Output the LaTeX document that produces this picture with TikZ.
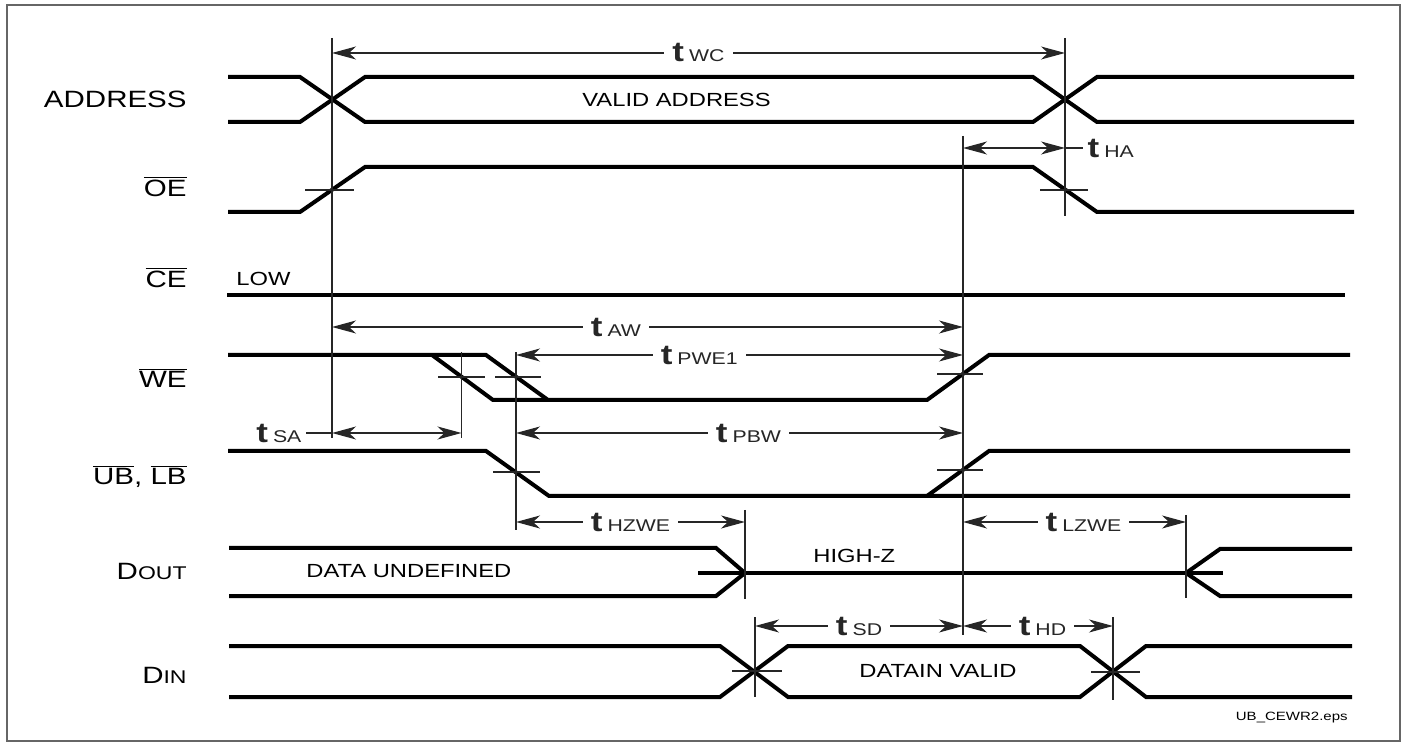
\documentclass[tikz,border=0pt]{standalone}
\usepackage{fontspec}
\setmainfont{Liberation Sans}[FakeStretch=1.25]
\usetikzlibrary{arrows.meta}

\newcommand{\tsym}[1]{{\fontsize{14}{14}\selectfont\bfseries t}\kern2.5pt{\fontsize{8.5}{8.5}\selectfont #1}}
\newcommand{\inv}[1]{\ensuremath{\overline{\hbox{#1}}}}

\begin{document}
\begin{tikzpicture}[
    x=0.5pt, y=-0.5pt,
    sig/.style={line width=2pt},
    guide/.style={line width=0.6pt,black!85},
    dim/.style={line width=0.6pt,black!85,
        {Stealth[length=12pt,width=6.5pt,inset=3.5pt]}-{Stealth[length=12pt,width=6.5pt,inset=3.5pt]}},
    tlab/.style={fill=white,inner xsep=4pt,inner ysep=1pt},
    signame/.style={anchor=base east,inner sep=0pt,font=\fontsize{11.8}{12}\selectfont},
    sigtext/.style={anchor=base west,inner sep=0pt,font=\fontsize{9.5}{10}\selectfont}
]
\useasboundingbox (0,0) rectangle (1406,747);
\draw[line width=1pt,black!60] (7,5) rectangle (1400,741);

% signal names
\node[signame] (addr) at (187,108) {ADDRESS};
\node[signame] (oe) at (187,197) {\inv{OE}};
\node[signame] (ce) at (187,288) {\inv{CE}};
\node[signame] (we) at (187,388) {\inv{WE}};
\node[signame] (ub) at (187,485) {\inv{UB}, \inv{LB}};
\node[signame] (dout) at (187,580) {D{\fontsize{9.2}{9}\selectfont OUT}};
\node[signame] (din) at (187,683) {D{\fontsize{9.2}{9}\selectfont IN}};

% texts on the waves
\node[sigtext] (valid) at (582,107) {VALID ADDRESS};
\node[sigtext] (low) at (236,286) {LOW};
\node[sigtext] (undef) at (306,577) {DATA UNDEFINED};
\node[sigtext] (highz) at (813,562) {HIGH-Z};
\node[sigtext] (datain) at (859,677) {DATAIN VALID};
\node[anchor=base east,inner sep=0pt,font=\fontsize{6}{6}\selectfont] (file) at (1348,720) {UB\_CEWR2.eps};

% waveforms
\draw[sig] (228,77) -- (300,77) -- (365,122) -- (1033,122) -- (1097,77) -- (1354,77);
\draw[sig] (228,122) -- (300,122) -- (365,77) -- (1033,77) -- (1097,122) -- (1354,122);
\draw[sig] (228,212) -- (300,212) -- (365,167) -- (1033,167) -- (1097,212) -- (1354,212);
\draw[sig] (227,295) -- (1345,295);
\draw[sig] (228,355) -- (486,355) -- (548,400) -- (927,400) -- (989,355) -- (1350,355);
\draw[sig] (432,355) -- (493,400) -- (548,400);
\draw[sig] (228,451) -- (486,451) -- (549,496) -- (1350,496);
\draw[sig] (927,496) -- (989,451) -- (1350,451);
\draw[sig] (229,548) -- (716,548) -- (745,573) -- (716,596) -- (229,596);
\draw[sig] (698,573) -- (1223,573);
\draw[sig] (1352,549) -- (1220,549) -- (1186,573) -- (1220,596) -- (1352,596);
\draw[sig] (229,646) -- (720,646) -- (788,697) -- (1080,697) -- (1146,646) -- (1352,646);
\draw[sig] (229,697) -- (720,697) -- (788,646) -- (1080,646) -- (1146,697) -- (1352,697);

% reference lines
\draw[guide] (332,38) -- (332,438);
\draw[guide] (1065,38) -- (1065,216);
\draw[guide] (963,136) -- (963,635);
\draw[guide] (461.5,352) -- (461.5,438);
\draw[guide] (516,352) -- (516,530);
\draw[guide] (745,510) -- (745,599);
\draw[guide] (1186,515) -- (1186,598);
\draw[guide] (755,617) -- (755,697);
\draw[guide] (1113,617) -- (1113,700);

% level ticks
\draw[guide] (305,190) -- (354,190);
\draw[guide] (1040,190) -- (1088,190);
\draw[guide] (438,377) -- (485,377);
\draw[guide] (495,377) -- (541,377);
\draw[guide] (937,374) -- (983,374);
\draw[guide] (493,472) -- (540,472);
\draw[guide] (937,470) -- (983,470);
\draw[guide] (732,671) -- (782,671);
\draw[guide] (1091,672) -- (1140,672);

% timing parameters
\coordinate (wc1) at (332,53);   \coordinate (wc2) at (1065,53);
\coordinate (ha1) at (963,148);  \coordinate (ha2) at (1065,148);
\coordinate (aw1) at (332,327);  \coordinate (aw2) at (963,327);
\coordinate (pw1) at (516,355);  \coordinate (pw2) at (963,355);
\coordinate (sa1) at (332,433);  \coordinate (sa2) at (461.5,433);
\coordinate (pb1) at (516,433);  \coordinate (pb2) at (963,433);
\coordinate (hz1) at (516,522);  \coordinate (hz2) at (745,522);
\coordinate (lz1) at (963,522);  \coordinate (lz2) at (1186,522);
\coordinate (sd1) at (755,626);  \coordinate (sd2) at (963,626);
\coordinate (hd1) at (963,626);  \coordinate (hd2) at (1113,626);

\draw[dim] (wc1) -- node[tlab]{\tsym{WC}} (wc2);
\draw[dim] (ha1) -- (ha2);
\draw[guide] (ha2) -- (1083,148) node[anchor=west,inner sep=0pt,xshift=2pt]{\tsym{HA}};
\draw[dim] (aw1) -- node[tlab,pos=0.45]{\tsym{AW}} (aw2);
\draw[dim] (pw1) -- node[tlab,pos=0.41]{\tsym{PWE1}} (pw2);
\draw[dim] (sa1) -- (sa2);
\draw[guide] (sa1) -- (306,433) node[anchor=east,inner sep=0pt,xshift=-2pt]{\tsym{SA}};
\draw[dim] (pb1) -- node[tlab,pos=0.52]{\tsym{PBW}} (pb2);
\draw[dim] (hz1) -- node[tlab]{\tsym{HZWE}} (hz2);
\draw[dim] (lz1) -- node[tlab,pos=0.54]{\tsym{LZWE}} (lz2);
\draw[dim] (sd1) -- node[tlab]{\tsym{SD}} (sd2);
\draw[dim] (hd1) -- node[tlab,pos=0.53]{\tsym{HD}} (hd2);
\end{tikzpicture}
\end{document}
